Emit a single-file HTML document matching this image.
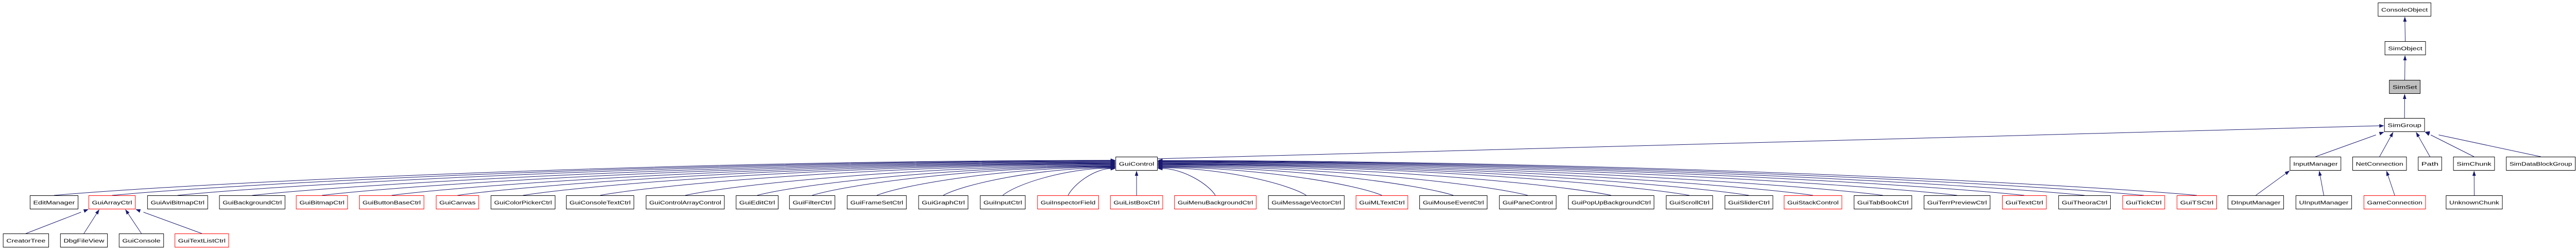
<!DOCTYPE html>
<html><head><meta charset="utf-8"><style>
html,body{margin:0;padding:0;background:#fff;width:100%;height:100%;overflow:hidden;}
svg{display:block;position:absolute;left:0;top:0;width:100vw;height:100vh;}
text{font-family:"Liberation Sans",sans-serif;font-size:10px;}
</style></head><body>
<svg id="g" viewBox="0 0 5265 485" preserveAspectRatio="none" xmlns="http://www.w3.org/2000/svg"></svg>
<script>
const nodeNames = ["ConsoleObject","SimObject","SimSet","SimGroup","GuiControl","InputManager","NetConnection","Path","SimChunk","SimDataBlockGroup",
"EditManager","GuiArrayCtrl","GuiAviBitmapCtrl","GuiBackgroundCtrl","GuiBitmapCtrl","GuiButtonBaseCtrl","GuiCanvas","GuiColorPickerCtrl","GuiConsoleTextCtrl","GuiControlArrayControl","GuiEditCtrl","GuiFilterCtrl","GuiFrameSetCtrl","GuiGraphCtrl","GuiInputCtrl","GuiInspectorField","GuiListBoxCtrl","GuiMenuBackgroundCtrl","GuiMessageVectorCtrl","GuiMLTextCtrl","GuiMouseEventCtrl","GuiPaneControl","GuiPopUpBackgroundCtrl","GuiScrollCtrl","GuiSliderCtrl","GuiStackControl","GuiTabBookCtrl","GuiTerrPreviewCtrl","GuiTextCtrl","GuiTheoraCtrl","GuiTickCtrl","GuiTSCtrl",
"DInputManager","UInputManager","GameConnection","UnknownChunk",
"CreatorTree","DbgFileView","GuiConsole","GuiTextListCtrl"];
const nodeX1 = [4860,4874,4883,4873,2280,4680,4808,4942,5014,5122,
61,181,301,448,605,734,891,1003,1157,1320,1504,1613,1731,1877,2003,2120,2269,2400,2592,2771,2901,3064,3205,3405,3525,3646,3789,3932,4092,4207,4338,4449,
4553,4692,4831,4999,
6,123,243,357];
const nodeX2 = [4969,4958,4947,4956,2366,4785,4919,4991,5099,5264,
160,277,425,583,711,867,979,1135,1296,1481,1591,1707,1853,1979,2096,2246,2377,2568,2748,2878,3040,3181,3381,3501,3624,3765,3908,4068,4183,4314,4425,4531,
4668,4807,4958,5115,
100,220,335,468];
const nodeRow = [0,1,2,3,4,4,4,4,4,4,
5,5,5,5,5,5,5,5,5,5,5,5,5,5,5,5,5,5,5,5,5,5,5,5,5,5,5,5,5,5,5,5,
5,5,5,5,
6,6,6,6];
const redNodes = ["GuiArrayCtrl","GuiBitmapCtrl","GuiButtonBaseCtrl","GuiCanvas","GuiInspectorField","GuiListBoxCtrl","GuiMenuBackgroundCtrl","GuiMLTextCtrl","GuiStackControl","GuiTextCtrl","GuiTickCtrl","GuiTSCtrl","GameConnection","GuiTextListCtrl"];
const parents = {ConsoleObject:null,SimObject:"ConsoleObject",SimSet:"SimObject",SimGroup:"SimSet",GuiControl:"SimGroup",
InputManager:"SimGroup",NetConnection:"SimGroup",Path:"SimGroup",SimChunk:"SimGroup",SimDataBlockGroup:"SimGroup",
DInputManager:"InputManager",UInputManager:"InputManager",GameConnection:"NetConnection",UnknownChunk:"SimChunk",
CreatorTree:"GuiArrayCtrl",DbgFileView:"GuiArrayCtrl",GuiConsole:"GuiArrayCtrl",GuiTextListCtrl:"GuiArrayCtrl"};
const rowY = [5,80,155,229,304,379,453];
const H = 27;
const NS="http://www.w3.org/2000/svg";
const svg=document.getElementById('g');
const edgeG=document.createElementNS(NS,'g');svg.appendChild(edgeG);
const nodeG=document.createElementNS(NS,'g');svg.appendChild(nodeG);
const idx={};nodeNames.forEach((n,i)=>idx[n]=i);
function box(i){return {x1:nodeX1[i],x2:nodeX2[i],y:rowY[nodeRow[i]],cx:(nodeX1[i]+nodeX2[i])/2};}
function arrow(ex,ey,dx,dy,name){
  const L=Math.hypot(dx,dy)||1;const ux=dx/L,uy=dy/L;const len=10,w=3.5;
  const bx=ex-ux*len,by=ey-uy*len;
  const p=document.createElementNS(NS,'polygon');
  p.setAttribute('points',`${ex},${ey} ${bx-uy*w},${by+ux*w} ${bx+uy*w},${by-ux*w}`);
  p.setAttribute('fill','#191970');
  
  
  edgeG.appendChild(p);
}
function edge(d,name){
  const p=document.createElementNS(NS,'path');
  p.setAttribute('d',d);p.setAttribute('fill','none');p.setAttribute('stroke','#191970');p.setAttribute('stroke-width','1');
  
  
  edgeG.appendChild(p);
}
nodeNames.forEach((n,i)=>{
  const b=box(i);
  let par=parents.hasOwnProperty(n)?parents[n]:(nodeRow[i]===5?"GuiControl":null);
  if(!par)return;
  const pb=box(idx[par]);
  const sx=b.cx, sy=b.y;
  if(par==="GuiControl"){
    const left=sx<pb.x1-40, right=sx>pb.x2+40;
    if(!left&&!right){
      const ex=pb.cx+(sx-pb.cx)*0.5, ey=pb.y+H;
      edge(`M${sx},${sy} L${ex},${ey+10}`,n);arrow(ex,ey,ex-sx,ey-sy,n);return;}
    const dist=Math.abs(sx-pb.cx);
    const ex=left?pb.x1:pb.x2;
    const ey=pb.y+H-3-Math.min(18,dist/130);
    const c1x=sx+(ex-sx)*0.12, c1y=sy-22;
    const c2x=ex-(ex-sx)*0.45, c2y=ey+1;
    const tx=left?ex-10:ex+10;
    edge(`M${sx},${sy} C${c1x},${c1y} ${c2x},${c2y} ${tx},${ey}`,n);
    arrow(ex,ey,ex-c2x,ey-c2y,n);
  } else if(n==="GuiControl"){
    const sx2=b.x2, sy2=b.y+4, ex=pb.x1, ey=pb.y+15;
    edge(`M${sx2},${sy2} L${ex-10},${ey}`,n);arrow(ex,ey,ex-sx2,ey-sy2,n);
  } else {
    const ex=Math.max(pb.x1,Math.min(pb.x2,pb.cx+(sx-pb.cx)*0.45)), ey=pb.y+H;
    edge(`M${sx},${sy} L${ex+(sx-ex)*0.12},${ey+(sy-ey)*0.12}`,n);arrow(ex,ey,ex-sx,ey-sy,n);
  }
});
nodeNames.forEach((n,i)=>{
  const b=box(i);
  const g=document.createElementNS(NS,'g');
  
  
  const r=document.createElementNS(NS,'rect');
  r.setAttribute('x',b.x1+0.5);r.setAttribute('y',b.y+0.5);r.setAttribute('width',b.x2-b.x1-1);r.setAttribute('height',H-1);
  r.setAttribute('fill',n==="SimSet"?'#bfbfbf':'#fff');
  r.setAttribute('stroke',redNodes.includes(n)?'#ff0000':'#000');
  g.appendChild(r);
  const t=document.createElementNS(NS,'text');
  t.setAttribute('x',b.cx);t.setAttribute('y',b.y+17.5);t.setAttribute('text-anchor','middle');
  t.setAttribute('textLength',Math.max(10,b.x2-b.x1-14));t.setAttribute('lengthAdjust','spacingAndGlyphs');
  t.textContent=n;
  g.appendChild(t);
  nodeG.appendChild(g);
});
</script>
</body></html>
